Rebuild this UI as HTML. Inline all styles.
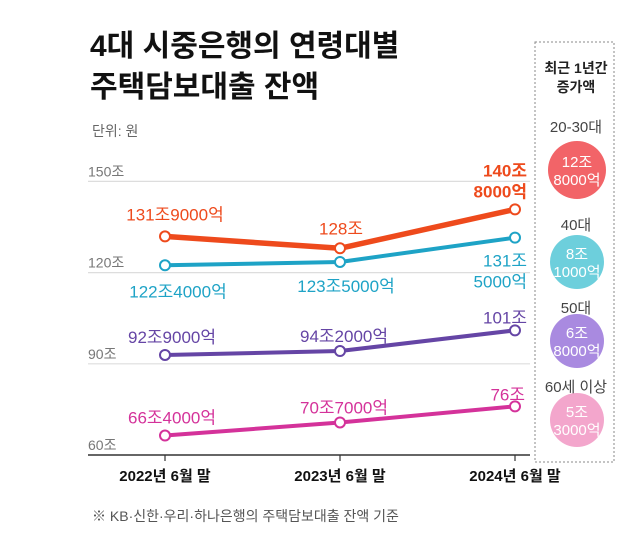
<!DOCTYPE html>
<html><head><meta charset="utf-8"><style>
body{margin:0;width:644px;height:536px;background:#fff;overflow:hidden;font-family:"Liberation Sans","Noto Sans CJK KR",sans-serif}
</style></head><body>
<svg width="644" height="536" xmlns="http://www.w3.org/2000/svg" font-family="Liberation Sans, Noto Sans CJK KR, sans-serif" id="chart">
<text x="90" y="56" font-size="30" font-weight="bold" fill="#111">4대 시중은행의 연령대별</text>
<text x="90" y="97" font-size="30" font-weight="bold" fill="#111">주택담보대출 잔액</text>
<text x="92" y="136" font-size="14" fill="#666">단위: 원</text>
<g id="grid"></g>
<g id="series"></g>
<text x="92" y="521" font-size="14" fill="#555">※ KB·신한·우리·하나은행의 주택담보대출 잔액 기준</text>
<rect x="535" y="42" width="79" height="420" fill="none" stroke="#888" stroke-dasharray="2,2"/>
<text x="576" y="73" font-size="14" font-weight="bold" text-anchor="middle" fill="#222">최근 1년간</text>
<text x="576" y="92" font-size="14" font-weight="bold" text-anchor="middle" fill="#222">증가액</text>
<g id="panel"></g>
</svg>
<script>
const categories=["2022년 6월 말","2023년 6월 말","2024년 6월 말"];
const ticks=[60,90,120,150];
const s2030=[131.9,128,140.8];
const s40=[122.4,123.5,131.5];
const s50=[92.9,94.2,101];
const s60=[66.4,70.7,76];
const labels2030=[["131조9000억"],["128조"],["140조","8000억"]];
const labels40=[["122조4000억"],["123조5000억"],["131조","5000억"]];
const labels50=[["92조9000억"],["94조2000억"],["101조"]];
const labels60=[["66조4000억"],["70조7000억"],["76조"]];
const groups=["20-30대","40대","50대","60세 이상"];
const increases=[["12조","8000억"],["8조","1000억"],["6조","8000억"],["5조","3000억"]];
const NS="http://www.w3.org/2000/svg";
const y=v=>455-(v-60)*3.04;
const x=i=>165+i*175;
function mk(t,a,p){const e=document.createElementNS(NS,t);for(const k in a)e.setAttribute(k,a[k]);p.appendChild(e);return e;}
const grid=document.getElementById('grid');
ticks.forEach(t=>{
  if(t>60){const l=mk('line',{x1:88,x2:530,y1:y(t),y2:y(t),stroke:'#ddd','stroke-width':1.2},grid);
  
  }
  const tx=mk('text',{x:88,y:y(t)-5,'font-size':14,fill:'#777'},grid);tx.textContent=t+'조';
  
  
});
const ax=mk('line',{x1:88,x2:530,y1:455,y2:455,stroke:'#333','stroke-width':1.5},grid);


categories.forEach((c,i)=>{
  const tk=mk('line',{x1:x(i),x2:x(i),y1:455,y2:461,stroke:'#333','stroke-width':1.2},grid);
  
  
  const t=mk('text',{x:x(i),y:481,'font-size':15,'font-weight':'bold','text-anchor':'middle',fill:'#111'},grid);t.textContent=c;
  
  
});
const sg=document.getElementById('series');
const series=[
 {v:s2030,l:labels2030,c:'#ee4a1c',n:'series-2030',w:5.5,off:[[10,-21,'middle'],[1,-19,'middle'],[12,-38,'end']]},
 {v:s40,l:labels40,c:'#1ea3c6',n:'series-40s',w:4,off:[[13,27,'middle'],[6,25,'middle'],[12,24,'end']]},
 {v:s50,l:labels50,c:'#6545a5',n:'series-50s',w:4,off:[[7,-17,'middle'],[4,-14,'middle'],[12,-12,'end']]},
 {v:s60,l:labels60,c:'#d4329a',n:'series-60plus',w:4,off:[[7,-17,'middle'],[4,-14,'middle'],[10,-11,'end']]}
];
series.forEach(s=>{
  const g=mk('g',{},sg);
  
  
  const p=mk('polyline',{points:s.v.map((v,i)=>x(i)+','+y(v)).join(' '),fill:'none',stroke:s.c,'stroke-width':s.w,'stroke-linejoin':'round'},g);
  
  
  s.v.forEach((v,i)=>{
    const c=mk('circle',{cx:x(i),cy:y(v),r:5,fill:'#fff',stroke:s.c,'stroke-width':2},g);
    
    
    const o=s.off[i];
    s.l[i].forEach((line,k)=>{
      const t=mk('text',{x:x(i)+o[0],y:y(v)+o[1]+k*21+5,'font-size':17,fill:s.c,'text-anchor':o[2],'font-weight':s.n==='series-2030'&&i===2?'bold':'normal'},g);
      t.textContent=line;
      
      
    });
  });
});
const pg=document.getElementById('panel');
const pcol=['#f26468','#6dcfdc','#a98ae0','#f3a6cc'];
const pcy=[170,262,341,420];
const ply=[132,230,313,392];
const pr=[29,27,27,27];
groups.forEach((gname,i)=>{
  const t=mk('text',{x:576,y:ply[i],'font-size':15,'text-anchor':'middle',fill:'#444'},pg);t.textContent=gname;
  
  
  const c=mk('circle',{cx:577,cy:pcy[i],r:pr[i],fill:pcol[i]},pg);
  
  
  increases[i].forEach((ln,k)=>{
    const tt=mk('text',{x:577,y:pcy[i]-3+k*18,'font-size':15,'text-anchor':'middle',fill:'#fff'},pg);tt.textContent=ln;
    
    
  });
});
</script>
</body></html>
